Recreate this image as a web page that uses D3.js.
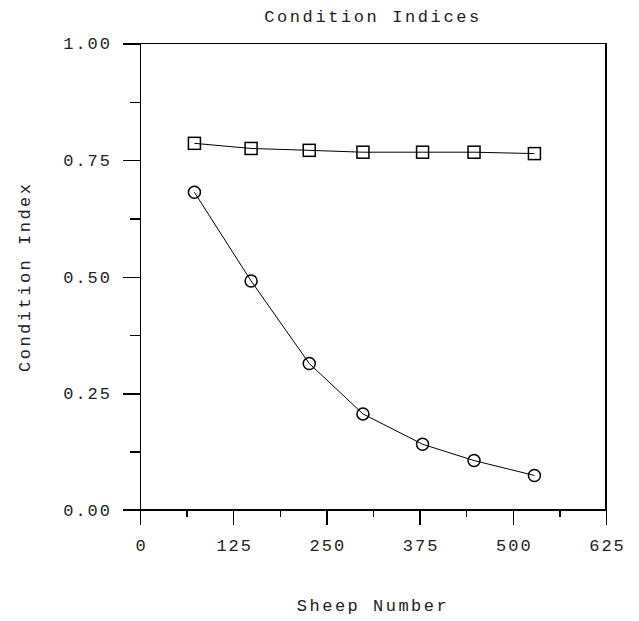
<!DOCTYPE html>
<html>
<head>
<meta charset="utf-8">
<script src="https://cdn.jsdelivr.net/npm/d3@7"></script>
<style>
  body { margin: 0; background: #fff; }
  text { font-family: "Liberation Mono", "Courier New", monospace; fill: #222; }
  .axis path, .axis line { stroke: #000; stroke-width: 1.5; shape-rendering: crispEdges; }
  .series { fill: none; stroke: #000; stroke-width: 1; }
  .mark { fill: none; stroke: #000; stroke-width: 1.5; }
</style>
</head>
<body>
<svg class="chart"></svg>
<script>
// DATA /////////////////////////////////////////
const sheepNumber = [73, 149, 227, 299, 379, 448, 529];
const squareIndex = [0.786, 0.775, 0.771, 0.767, 0.767, 0.767, 0.764];
const circleIndex = [0.681, 0.491, 0.314, 0.206, 0.141, 0.106, 0.074];
const xTicks = [0, 125, 250, 375, 500, 625];
const yTicks = [0, 0.25, 0.5, 0.75, 1];

// DEFINITIONS //////////////////////////////////
const W = 639, H = 621;
const plot = { left: 140, right: 606, top: 43.5, bottom: 510 };

const svg = d3.select(".chart").attr("width", W).attr("height", H);

const x = d3.scaleLinear().domain([0, 625]).range([plot.left, plot.right]);
const y = d3.scaleLinear().domain([0, 1]).range([plot.bottom, plot.top]);

// AXES /////////////////////////////////////////
// minor ticks
svg.append("g").attr("class", "axis")
  .attr("transform", `translate(0,${plot.bottom})`)
  .call(d3.axisBottom(x).tickValues(d3.range(0, 626, 62.5)).tickSize(7).tickFormat("").tickSizeOuter(0));
svg.append("g").attr("class", "axis")
  .attr("transform", `translate(${plot.left},0)`)
  .call(d3.axisLeft(y).tickValues(d3.range(0, 1.01, 0.125)).tickSize(10).tickFormat("").tickSizeOuter(0));

// major ticks
const xAxis = svg.append("g").attr("class", "axis")
  .attr("transform", `translate(0,${plot.bottom})`)
  .call(d3.axisBottom(x).tickValues(xTicks).tickSize(15).tickPadding(14).tickSizeOuter(0).tickFormat(d3.format("d")));
xAxis.select(".domain").attr("d", `M${plot.left - 17},0H${plot.right}`);

const yAxis = svg.append("g").attr("class", "axis")
  .attr("transform", `translate(${plot.left},0)`)
  .call(d3.axisLeft(y).tickValues(yTicks).tickSize(17).tickPadding(11).tickSizeOuter(0).tickFormat(d3.format(".2f")));

svg.selectAll(".axis text")
  .style("font-size", "17px")
  .style("letter-spacing", "2px");
xAxis.selectAll("text").attr("dx", "1px");

// frame top and right
svg.append("path").attr("class", "series")
  .attr("d", `M${plot.left},${plot.top}H${plot.right}V${plot.bottom}`)
  .style("stroke-width", 1.5)
  .style("shape-rendering", "crispEdges");

// SERIES ///////////////////////////////////////
const line = d3.line().x((d) => x(d[0])).y((d) => y(d[1]));
const sqData = sheepNumber.map((s, i) => [s, squareIndex[i]]);
const ciData = sheepNumber.map((s, i) => [s, circleIndex[i]]);

svg.append("path").attr("class", "series").attr("d", line(sqData));
svg.append("path").attr("class", "series").attr("d", line(ciData));

svg.selectAll(".sq").data(sqData).enter().append("rect")
  .attr("class", "mark")
  .attr("x", (d) => x(d[0]) - 6).attr("y", (d) => y(d[1]) - 6)
  .attr("width", 12).attr("height", 12);

svg.selectAll(".ci").data(ciData).enter().append("circle")
  .attr("class", "mark")
  .attr("cx", (d) => x(d[0])).attr("cy", (d) => y(d[1]))
  .attr("r", 6);

// LABELS ///////////////////////////////////////
svg.append("text")
  .attr("x", (plot.left + plot.right) / 2).attr("y", 22)
  .attr("text-anchor", "middle")
  .style("font-size", "17px").style("letter-spacing", "2.6px")
  .text("Condition Indices");

svg.append("text")
  .attr("x", (plot.left + plot.right) / 2).attr("y", 611)
  .attr("text-anchor", "middle")
  .style("font-size", "17px").style("letter-spacing", "2.5px")
  .text("Sheep Number");

svg.append("text")
  .attr("transform", `translate(30,${(plot.top + plot.bottom) / 2}) rotate(-90)`)
  .attr("text-anchor", "middle")
  .style("font-size", "17px").style("letter-spacing", "2.5px")
  .text("Condition Index");
</script>
</body>
</html>
